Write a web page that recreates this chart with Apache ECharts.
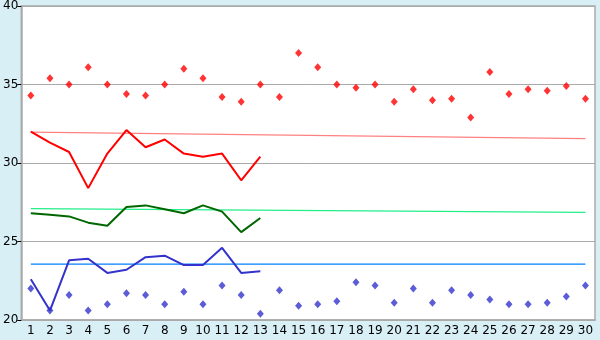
<!DOCTYPE html>
<html><head><meta charset="utf-8">
<script src="https://cdn.jsdelivr.net/npm/echarts@6/dist/echarts.min.js"></script>
<style>html,body{margin:0;padding:0;background:#d9eff6}#c{width:600px;height:340px}</style>
</head><body><div id="c"></div>
<script>
var categories = ['1','2','3','4','5','6','7','8','9','10','11','12','13','14','15','16','17','18','19','20','21','22','23','24','25','26','27','28','29','30'];
var redPoints = [34.3,35.4,35.0,36.1,35.0,34.4,34.3,35.0,36.0,35.4,34.2,33.9,35.0,34.2,37.0,36.1,35.0,34.8,35.0,33.9,34.7,34.0,34.1,32.9,35.8,34.4,34.7,34.6,34.9,34.1];
var bluePoints = [22.0,20.6,21.6,20.6,21.0,21.7,21.6,21.0,21.8,21.0,22.2,21.6,20.4,21.9,20.9,21.0,21.2,22.4,22.2,21.1,22.0,21.1,21.9,21.6,21.3,21.0,21.0,21.1,21.5,22.2];
var redLine = [32.0,31.3,30.7,28.4,30.6,32.1,31.0,31.5,30.6,30.4,30.6,28.9,30.4];
var greenLine = [26.8,26.7,26.6,26.2,26.0,27.2,27.3,27.05,26.8,27.3,26.9,25.6,26.5];
var blueLine = [22.6,20.6,23.8,23.9,23.0,23.2,24.0,24.1,23.5,23.5,24.6,23.0,23.1];
var redTrend = [['1',31.97],['30',31.55]];
var greenTrend = [['1',27.1],['30',26.86]];
var blueTrend = [['1',23.56],['30',23.56]];
var yTicks = {min:20, max:40, interval:5};

var chart = echarts.init(document.getElementById('c'), null, {renderer:'canvas'});
var font = 'DejaVu Sans';
function trend(data, color){
  return {type:'line', data:data, symbol:'none', silent:true, animation:false,
    lineStyle:{color:color, width:1.2}, z:2};
}
function line(data, color){
  return {type:'line', data:data, symbol:'none', animation:false,
    lineStyle:{color:color, width:2}, z:3};
}
function pts(data, color){
  return {type:'scatter', data:data, symbol:'diamond', symbolSize:[7,8], animation:false,
    itemStyle:{color:color}, z:4};
}
chart.setOption({
  backgroundColor:'#d9eff6',
  animation:false,
  grid:{left:20.5, right:5, top:5, bottom:20, show:true, backgroundColor:'#ffffff', borderColor:'#aaaaaa', borderWidth:1.5},
  xAxis:{type:'category', data:categories, boundaryGap:true,
    axisLine:{lineStyle:{color:'#aaaaaa', width:1.5}},
    axisTick:{alignWithLabel:true, length:5, lineStyle:{color:'#000'}},
    axisLabel:{color:'#000', fontFamily:font, fontSize:12, margin:5, interval:0},
    splitLine:{show:false}},
  yAxis:{type:'value', min:yTicks.min, max:yTicks.max, interval:yTicks.interval,
    axisLine:{show:true, lineStyle:{color:'#aaaaaa', width:1.5}},
    axisTick:{show:true, length:4, lineStyle:{color:'#000'}},
    axisLabel:{color:'#000', fontFamily:font, fontSize:12, margin:3},
    splitLine:{lineStyle:{color:'#aaaaaa', width:1}}},
  series:[
    trend(redTrend,'#ff8080'),
    trend(greenTrend,'#22ee88'),
    trend(blueTrend,'#0080ff'),
    line(redLine,'#ff0000'),
    line(greenLine,'#006600'),
    line(blueLine,'#3333cc'),
    pts(redPoints,'#ff0000'),
    pts(bluePoints,'#3333cc')
  ]
});
</script></body></html>
